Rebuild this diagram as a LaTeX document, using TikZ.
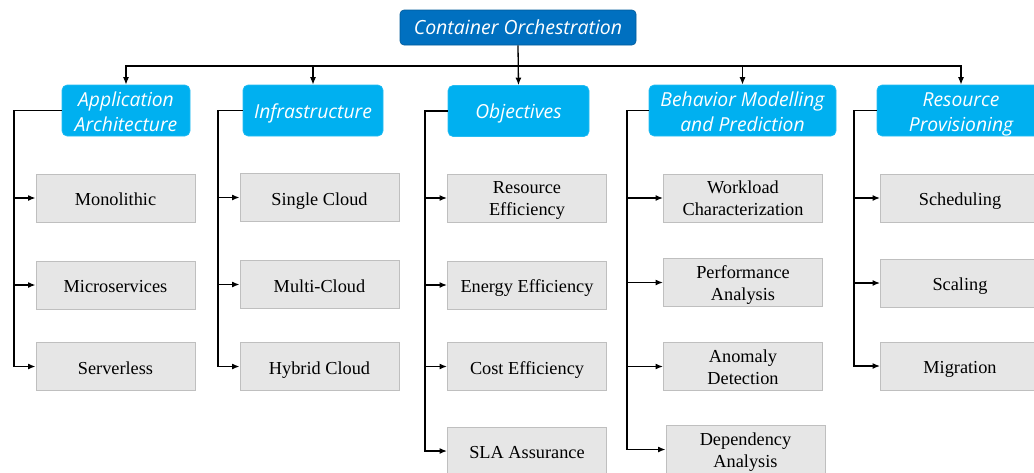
\documentclass[tikz,border=0pt]{standalone}
\usepackage{fontspec}
\setmainfont{Liberation Serif}
\newfontfamily\headfont{Open Sans}
\usetikzlibrary{arrows.meta}
\definecolor{darkblue}{HTML}{0070C0}
\definecolor{lightblue}{HTML}{00B0F0}
\definecolor{leaffill}{HTML}{E6E6E6}
\definecolor{leafline}{HTML}{BFBFBF}
\tikzset{
  rootbox/.style={draw=darkblue!80!black, fill=darkblue, rounded corners=4pt, text=white,
    font=\headfont\itshape\fontsize{19.5}{24}\selectfont, minimum width=236pt, minimum height=35pt, inner sep=0pt, line width=0.6pt},
  catbox/.style={draw=lightblue!85!white, fill=lightblue, rounded corners=5pt, text=white,
    font=\headfont\itshape\fontsize{19.3}{25}\selectfont, minimum height=51pt, inner sep=0pt, align=center, line width=0.6pt},
  cat1/.style={catbox, text height=15pt, text depth=0pt},
  cat2/.style={catbox, text height=41pt, text depth=0pt},
  leafbox/.style={draw=leafline, fill=leaffill, minimum width=159pt, minimum height=48pt, inner sep=0pt,
    font=\fontsize{18.3}{22}\selectfont, align=center, line width=1pt},
  leaf1/.style={leafbox, text height=15pt, text depth=0pt},
  leaf2/.style={leafbox, text height=35pt, text depth=0pt},
  conn/.style={line width=1.3pt, black},
  arr/.style={conn, -{Latex[length=7.5pt,width=6pt]}}
}
\begin{document}
\begin{tikzpicture}[x=1pt,y=-1pt]
\useasboundingbox (0,0) rectangle (1034,472);
\clip (0,0) rectangle (1034,472);
% root
\node[rootbox] (root) at (518,27.5) {Container Orchestration};
% categories
\node[cat2, minimum width=128pt] (c1) at (126,110.5) {Application\\Architecture};
\node[cat1, minimum width=140pt] (c2) at (313,110.5) {Infrastructure};
\node[cat1, minimum width=141pt] (c3) at (518.5,111) {Objectives};
\node[cat2, minimum width=187pt] (c4) at (742.5,110.5) {Behavior Modelling\\and Prediction};
\node[cat2, minimum width=168pt] (c5) at (961,110.5) {Resource\\Provisioning};
% bus
\coordinate (bus) at (518,66);
\draw[arr] (root.south) -- (c3.north);
\draw[arr] (bus) -| (c1.north);
\draw[arr] (bus) -| (c2.north);
\draw[arr] (bus) -| (c4.north);
\draw[arr] (bus) -| (c5.north);
% leaves column 1
\node[leaf1] (l11) at (115.5,198) {Monolithic};
\node[leaf1] (l12) at (115.5,285) {Microservices};
\node[leaf1] (l13) at (115.5,366.5) {Serverless};
% column 2
\node[leaf1] (l21) at (319.5,197.5) {Single Cloud};
\node[leaf1] (l22) at (319.5,284.5) {Multi-Cloud};
\node[leaf1] (l23) at (319.5,366.5) {Hybrid Cloud};
% column 3
\node[leaf2] (l31) at (527,198) {Resource\\Efficiency};
\node[leaf1] (l32) at (527,285) {Energy Efficiency};
\node[leaf1] (l33) at (527,366.5) {Cost Efficiency};
\node[leaf1] (l34) at (527,451) {SLA Assurance};
% column 4
\node[leaf2] (l41) at (743,198) {Workload\\Characterization};
\node[leaf2] (l42) at (743,282.5) {Performance\\Analysis};
\node[leaf2] (l43) at (743,366.5) {Anomaly\\Detection};
\node[leaf2] (l44) at (745.5,449.5) {Dependency\\Analysis};
% column 5
\node[leaf1] (l51) at (960,198) {Scheduling};
\node[leaf1] (l52) at (960,283) {Scaling};
\node[leaf1] (l53) at (960,366) {Migration};
% trunks
\coordinate (t1) at (14,0);
\coordinate (t2) at (218,0);
\coordinate (t3) at (425,0);
\coordinate (t4) at (627,0);
\coordinate (t5) at (854,0);
\draw[arr] (c1.west) -- (t1 |- c1.west) -- (t1 |- l13.west) -- (l13.west);
\draw[arr] (t1 |- l11.west) -- (l11.west);
\draw[arr] (t1 |- l12.west) -- (l12.west);
\draw[arr] (c2.west) -- (t2 |- c2.west) -- (t2 |- l23.west) -- (l23.west);
\draw[arr] (t2 |- l21.west) -- (l21.west);
\draw[arr] (t2 |- l22.west) -- (l22.west);
\draw[arr] (c3.west) -- (t3 |- c3.west) -- (t3 |- l34.west) -- (l34.west);
\draw[arr] (t3 |- l31.west) -- (l31.west);
\draw[arr] (t3 |- l32.west) -- (l32.west);
\draw[arr] (t3 |- l33.west) -- (l33.west);
\draw[arr] (c4.west) -- (t4 |- c4.west) -- (t4 |- l44.west) -- (l44.west);
\draw[arr] (t4 |- l41.west) -- (l41.west);
\draw[arr] (t4 |- l42.west) -- (l42.west);
\draw[arr] (t4 |- l43.west) -- (l43.west);
\draw[arr] (c5.west) -- (t5 |- c5.west) -- (t5 |- l53.west) -- (l53.west);
\draw[arr] (t5 |- l51.west) -- (l51.west);
\draw[arr] (t5 |- l52.west) -- (l52.west);
\end{tikzpicture}
\end{document}
